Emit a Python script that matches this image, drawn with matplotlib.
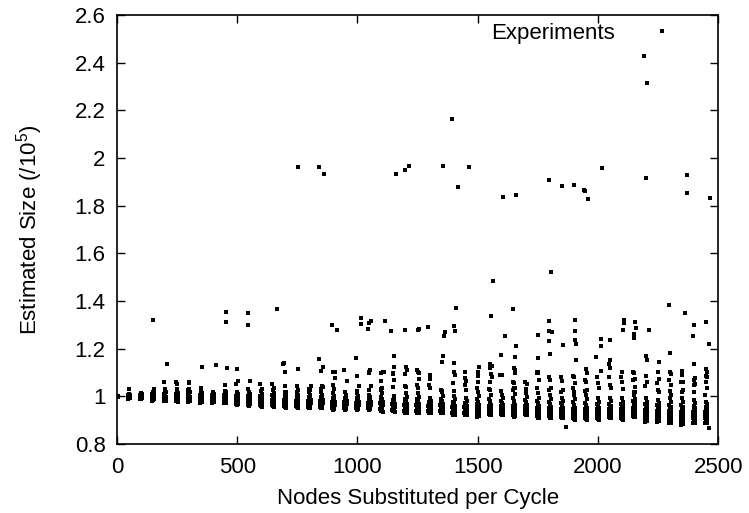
import matplotlib.pyplot as plt
from matplotlib.ticker import FormatStrFormatter

plt.rcParams['font.family'] = ['Liberation Sans', 'DejaVu Sans']
plt.rcParams['mathtext.default'] = 'regular'

# one column of runs every 50 substituted nodes
cols = [0, 50, 100, 150, 200, 250, 300, 350, 400, 450,
        500, 550, 600, 650, 700, 750, 800, 850, 900, 950,
        1000, 1050, 1100, 1150, 1200, 1250, 1300, 1350, 1400, 1450,
        1500, 1550, 1600, 1650, 1700, 1750, 1800, 1850, 1900, 1950,
        2000, 2050, 2100, 2150, 2200, 2250, 2300, 2350, 2400, 2450]

# dense part of each column (estimated size / 1e5)
core = [
    [1.003, 1.002, 1.001, 1.001, 1.000, 1.000, 1.000, 0.999, 0.999, 0.998, 0.998, 0.997],
    [1.010, 1.006, 1.004, 1.002, 1.001, 1.000, 0.999, 0.998, 0.997, 0.996, 0.995, 0.993, 0.992, 0.990],
    [1.015, 1.010, 1.006, 1.004, 1.002, 1.000, 0.999, 0.998, 0.996, 0.995, 0.994, 0.993, 0.991, 0.990, 0.989],
    [1.020, 1.013, 1.008, 1.004, 1.001, 0.999, 0.997, 0.995, 0.993, 0.992, 0.990, 0.988, 0.987, 0.985, 0.983, 0.980],
    [1.025, 1.017, 1.011, 1.006, 1.002, 0.999, 0.997, 0.995, 0.993, 0.991, 0.989, 0.988, 0.986, 0.985, 0.983, 0.982, 0.980],
    [1.025, 1.016, 1.010, 1.005, 1.001, 0.998, 0.995, 0.993, 0.991, 0.989, 0.987, 0.986, 0.984, 0.982, 0.981, 0.979, 0.977],
    [1.030, 1.020, 1.012, 1.006, 1.002, 0.999, 0.996, 0.994, 0.991, 0.989, 0.988, 0.986, 0.985, 0.983, 0.982, 0.980, 0.979, 0.977],
    [1.020, 1.012, 1.006, 1.002, 0.998, 0.995, 0.993, 0.990, 0.988, 0.986, 0.985, 0.983, 0.981, 0.980, 0.979, 0.977, 0.975, 0.973],
    [1.020, 1.011, 1.005, 1.001, 0.997, 0.994, 0.992, 0.990, 0.988, 0.986, 0.984, 0.982, 0.981, 0.979, 0.978, 0.976, 0.975, 0.973],
    [1.022, 1.012, 1.005, 1.000, 0.996, 0.993, 0.990, 0.988, 0.986, 0.984, 0.982, 0.980, 0.979, 0.977, 0.976, 0.974, 0.972, 0.970],
    [1.020, 1.010, 1.003, 0.998, 0.994, 0.991, 0.988, 0.986, 0.984, 0.981, 0.979, 0.977, 0.976, 0.974, 0.972, 0.970, 0.968, 0.966, 0.963],
    [1.020, 1.009, 1.002, 0.997, 0.993, 0.990, 0.987, 0.985, 0.982, 0.980, 0.978, 0.976, 0.974, 0.972, 0.970, 0.968, 0.966, 0.963, 0.960],
    [1.022, 1.010, 1.003, 0.997, 0.993, 0.989, 0.986, 0.983, 0.981, 0.978, 0.976, 0.974, 0.972, 0.970, 0.968, 0.966, 0.964, 0.962, 0.959, 0.956],
    [1.025, 1.012, 1.004, 0.998, 0.993, 0.989, 0.986, 0.983, 0.980, 0.978, 0.976, 0.974, 0.972, 0.970, 0.968, 0.966, 0.964, 0.962, 0.959, 0.956],
    [1.020, 1.008, 1.000, 0.995, 0.990, 0.986, 0.983, 0.980, 0.978, 0.975, 0.973, 0.971, 0.969, 0.967, 0.965, 0.963, 0.961, 0.958, 0.955, 0.952],
    [1.020, 1.007, 1.000, 0.994, 0.989, 0.985, 0.982, 0.979, 0.977, 0.975, 0.973, 0.971, 0.969, 0.967, 0.965, 0.962, 0.960, 0.958, 0.955, 0.952],
    [1.020, 1.007, 0.999, 0.993, 0.988, 0.984, 0.981, 0.978, 0.976, 0.974, 0.971, 0.969, 0.967, 0.965, 0.963, 0.961, 0.959, 0.957, 0.954, 0.951, 0.949],
    [1.020, 1.006, 0.998, 0.992, 0.987, 0.983, 0.980, 0.977, 0.975, 0.973, 0.970, 0.968, 0.966, 0.964, 0.962, 0.960, 0.958, 0.956, 0.953, 0.951, 0.949],
    [1.013, 1.001, 0.993, 0.987, 0.982, 0.978, 0.975, 0.972, 0.970, 0.968, 0.965, 0.963, 0.961, 0.959, 0.957, 0.955, 0.953, 0.950, 0.948, 0.945, 0.942],
    [1.020, 1.004, 0.995, 0.988, 0.983, 0.979, 0.976, 0.973, 0.970, 0.968, 0.966, 0.964, 0.962, 0.960, 0.958, 0.956, 0.953, 0.951, 0.948, 0.945, 0.942],
    [1.013, 1.000, 0.992, 0.986, 0.981, 0.977, 0.974, 0.971, 0.969, 0.967, 0.965, 0.963, 0.961, 0.959, 0.957, 0.955, 0.952, 0.950, 0.947, 0.945, 0.942],
    [1.006, 0.996, 0.989, 0.984, 0.979, 0.976, 0.973, 0.970, 0.968, 0.966, 0.964, 0.962, 0.960, 0.958, 0.956, 0.954, 0.952, 0.950, 0.947, 0.945, 0.942],
    [1.030, 1.012, 0.999, 0.990, 0.983, 0.978, 0.974, 0.971, 0.968, 0.965, 0.963, 0.961, 0.959, 0.957, 0.955, 0.953, 0.951, 0.948, 0.945, 0.942, 0.938, 0.935],
    [1.000, 0.990, 0.983, 0.977, 0.973, 0.969, 0.966, 0.963, 0.961, 0.959, 0.957, 0.955, 0.953, 0.951, 0.949, 0.947, 0.945, 0.943, 0.941, 0.939, 0.937, 0.935],
    [1.013, 0.998, 0.988, 0.980, 0.974, 0.969, 0.965, 0.962, 0.959, 0.957, 0.955, 0.953, 0.951, 0.949, 0.947, 0.945, 0.943, 0.940, 0.937, 0.934, 0.931, 0.928],
    [1.013, 0.997, 0.987, 0.979, 0.973, 0.968, 0.964, 0.961, 0.958, 0.956, 0.954, 0.952, 0.950, 0.948, 0.946, 0.944, 0.942, 0.939, 0.936, 0.933, 0.930, 0.928],
    [0.992, 0.982, 0.975, 0.970, 0.966, 0.962, 0.959, 0.957, 0.955, 0.953, 0.951, 0.949, 0.947, 0.945, 0.943, 0.941, 0.939, 0.937, 0.935, 0.932, 0.930, 0.928],
    [1.020, 1.001, 0.989, 0.980, 0.973, 0.968, 0.963, 0.959, 0.956, 0.953, 0.951, 0.949, 0.947, 0.945, 0.943, 0.941, 0.939, 0.937, 0.935, 0.932, 0.930, 0.928],
    [1.000, 0.987, 0.978, 0.971, 0.966, 0.961, 0.957, 0.954, 0.951, 0.949, 0.947, 0.945, 0.943, 0.941, 0.939, 0.937, 0.934, 0.932, 0.929, 0.926, 0.923, 0.921],
    [0.992, 0.981, 0.973, 0.967, 0.962, 0.958, 0.955, 0.952, 0.949, 0.947, 0.945, 0.943, 0.941, 0.939, 0.937, 0.935, 0.933, 0.931, 0.929, 0.926, 0.923, 0.921],
    [1.020, 1.000, 0.987, 0.977, 0.969, 0.963, 0.958, 0.954, 0.951, 0.948, 0.946, 0.944, 0.942, 0.940, 0.938, 0.936, 0.934, 0.931, 0.928, 0.925, 0.921, 0.918, 0.914],
    [1.025, 1.004, 0.990, 0.979, 0.971, 0.965, 0.960, 0.956, 0.952, 0.949, 0.947, 0.945, 0.943, 0.941, 0.939, 0.937, 0.935, 0.933, 0.931, 0.929, 0.926, 0.923, 0.921],
    [1.006, 0.992, 0.982, 0.974, 0.968, 0.963, 0.959, 0.955, 0.952, 0.949, 0.947, 0.945, 0.943, 0.941, 0.939, 0.937, 0.935, 0.933, 0.931, 0.929, 0.926, 0.923, 0.921],
    [1.034, 1.010, 0.993, 0.981, 0.972, 0.965, 0.959, 0.954, 0.950, 0.947, 0.944, 0.942, 0.940, 0.938, 0.936, 0.934, 0.932, 0.930, 0.927, 0.924, 0.920, 0.917, 0.914],
    [1.013, 0.997, 0.985, 0.976, 0.969, 0.963, 0.958, 0.954, 0.951, 0.948, 0.946, 0.944, 0.942, 0.940, 0.938, 0.936, 0.934, 0.932, 0.930, 0.928, 0.926, 0.923, 0.921],
    [1.013, 0.995, 0.982, 0.972, 0.964, 0.958, 0.953, 0.949, 0.946, 0.943, 0.941, 0.939, 0.937, 0.935, 0.933, 0.931, 0.929, 0.927, 0.924, 0.921, 0.918, 0.914, 0.910, 0.907],
    [1.006, 0.990, 0.978, 0.969, 0.962, 0.956, 0.951, 0.947, 0.944, 0.941, 0.939, 0.937, 0.935, 0.933, 0.931, 0.929, 0.927, 0.925, 0.922, 0.919, 0.916, 0.913, 0.910, 0.907],
    [0.992, 0.979, 0.970, 0.963, 0.957, 0.952, 0.948, 0.945, 0.942, 0.940, 0.938, 0.936, 0.934, 0.932, 0.930, 0.928, 0.926, 0.924, 0.921, 0.918, 0.915, 0.912, 0.910, 0.907],
    [1.006, 0.988, 0.975, 0.965, 0.958, 0.952, 0.947, 0.943, 0.940, 0.937, 0.935, 0.933, 0.931, 0.929, 0.927, 0.925, 0.923, 0.920, 0.917, 0.914, 0.911, 0.907, 0.903, 0.900],
    [1.006, 0.987, 0.974, 0.964, 0.957, 0.951, 0.946, 0.942, 0.939, 0.936, 0.934, 0.932, 0.930, 0.928, 0.926, 0.924, 0.922, 0.919, 0.916, 0.913, 0.910, 0.906, 0.903, 0.900],
    [0.992, 0.978, 0.968, 0.960, 0.954, 0.949, 0.945, 0.941, 0.938, 0.935, 0.933, 0.931, 0.929, 0.927, 0.925, 0.923, 0.921, 0.918, 0.915, 0.912, 0.909, 0.906, 0.903, 0.900],
    [0.992, 0.979, 0.969, 0.961, 0.955, 0.950, 0.946, 0.942, 0.939, 0.936, 0.934, 0.932, 0.930, 0.928, 0.926, 0.924, 0.922, 0.920, 0.917, 0.914, 0.912, 0.910, 0.909, 0.907],
    [0.992, 0.978, 0.968, 0.960, 0.954, 0.949, 0.945, 0.941, 0.938, 0.935, 0.933, 0.931, 0.929, 0.927, 0.925, 0.923, 0.921, 0.918, 0.915, 0.912, 0.909, 0.906, 0.903, 0.900],
    [1.006, 0.990, 0.979, 0.970, 0.963, 0.957, 0.952, 0.948, 0.945, 0.942, 0.939, 0.937, 0.935, 0.933, 0.931, 0.929, 0.927, 0.925, 0.923, 0.921, 0.919, 0.917, 0.915, 0.914],
    [0.992, 0.977, 0.966, 0.958, 0.951, 0.946, 0.942, 0.938, 0.935, 0.932, 0.930, 0.928, 0.926, 0.924, 0.922, 0.920, 0.918, 0.916, 0.913, 0.910, 0.907, 0.904, 0.900, 0.896, 0.893],
    [0.985, 0.972, 0.962, 0.955, 0.949, 0.944, 0.940, 0.936, 0.933, 0.930, 0.928, 0.926, 0.924, 0.922, 0.920, 0.918, 0.916, 0.914, 0.911, 0.908, 0.905, 0.902, 0.899, 0.896, 0.893],
    [0.992, 0.976, 0.965, 0.956, 0.949, 0.943, 0.938, 0.934, 0.931, 0.928, 0.926, 0.924, 0.922, 0.920, 0.918, 0.916, 0.914, 0.911, 0.908, 0.905, 0.902, 0.898, 0.894, 0.890, 0.886],
    [0.992, 0.975, 0.963, 0.954, 0.947, 0.941, 0.936, 0.932, 0.929, 0.926, 0.923, 0.921, 0.919, 0.917, 0.915, 0.913, 0.910, 0.907, 0.904, 0.901, 0.897, 0.893, 0.889, 0.884, 0.880],
    [0.985, 0.970, 0.960, 0.952, 0.945, 0.940, 0.936, 0.932, 0.929, 0.926, 0.924, 0.922, 0.920, 0.918, 0.916, 0.914, 0.911, 0.908, 0.905, 0.902, 0.899, 0.896, 0.893, 0.889, 0.886],
    [0.978, 0.966, 0.957, 0.950, 0.944, 0.939, 0.935, 0.931, 0.928, 0.925, 0.923, 0.921, 0.919, 0.917, 0.915, 0.913, 0.910, 0.907, 0.904, 0.901, 0.898, 0.895, 0.892, 0.889, 0.886],
]

# sparser runs sitting just above each column
mid = {
    50: [1.031], 150: [1.029], 200: [1.059, 1.031], 250: [1.059, 1.053, 1.032],
    300: [1.059, 1.055, 1.025], 350: [1.034], 450: [1.048, 1.020],
    500: [1.063, 1.053], 550: [1.063, 1.030], 600: [1.051, 1.030],
    650: [1.051, 1.034], 700: [1.045, 1.020], 750: [1.042, 1.028],
    800: [1.042, 1.032, 1.025], 850: [1.040, 1.030, 1.045],
    900: [1.077, 1.049, 1.030], 950: [1.065, 1.020], 1000: [1.045, 1.021],
    1050: [1.044, 1.027], 1100: [1.065, 1.034, 1.027], 1150: [1.095, 1.070, 1.040],
    1200: [1.044, 1.038], 1250: [1.048, 1.034], 1300: [1.048, 1.034],
    1350: [1.027, 1.023], 1400: [1.055, 1.023], 1450: [1.076, 1.065, 1.048, 1.027],
    1500: [1.062, 1.034], 1550: [1.060, 1.030], 1600: [1.090, 1.023],
    1650: [1.110, 1.060, 1.055, 1.034, 1.027], 1700: [1.051, 1.059, 1.031],
    1750: [1.104, 1.097, 1.069, 1.034], 1800: [1.079, 1.069, 1.034, 1.027],
    1850: [1.079, 1.065, 1.027, 1.020], 1900: [1.087, 1.079, 1.055, 1.034, 1.020],
    1950: [1.069, 1.062, 1.027, 1.023], 2000: [1.083, 1.055, 1.034],
    2050: [1.079, 1.048, 1.037], 2100: [1.083, 1.060, 1.030],
    2150: [1.104, 1.097, 1.073, 1.069, 1.041, 1.020, 1.020],
    2200: [1.087, 1.062, 1.045], 2250: [1.104, 1.073, 1.055, 1.020, 1.027],
    2300: [1.100, 1.093, 1.069, 1.048, 1.023, 1.006],
    2350: [1.090, 1.062, 1.059, 1.027, 1.020], 2400: [1.048, 1.052, 1.070, 1.076, 1.020],
    2450: [1.115, 1.104, 1.087, 1.079, 1.062, 1.034, 1.006],
}

# isolated runs read one by one
out_x = [755, 842, 863, 1162, 1198, 1213, 1356, 1392, 1416, 1465,
         1604, 1660, 1795, 1851, 1902, 1942, 1947, 1960, 2015, 2192,
         2205, 2200, 2368, 2368, 2467, 1564, 1805,
         151, 453, 453, 545, 545, 667, 893, 914, 1014, 1014,
         1045, 1050, 1055, 1113, 1141, 1197, 1252, 1256, 1294, 1360,
         1362, 1402, 1406, 1411, 1557, 1614, 1646, 1660, 1750, 1798,
         1796, 1808, 1797, 1854, 1905, 1905, 1906, 1908, 2011, 2011,
         2050, 2106, 2110, 2104, 2155, 2157, 2151, 2151, 2210, 2296,
         2360, 2397, 2396, 2450, 2460,
         207, 356, 412, 458, 498, 692, 693, 700, 752, 840,
         858, 850, 993, 946, 900, 905, 1000, 1050, 1052, 1048,
         1100, 1105, 1110, 1150, 1150, 1148, 1200, 1205, 1198, 1246,
         1252, 1256, 1255, 1302, 1300, 1352, 1354, 1400, 1403, 1406,
         1447, 1500, 1503, 1506, 1549, 1560, 1553, 1557, 1559, 1597,
         1594, 1657, 1652, 1655, 1752, 1750, 1748, 1802, 1908, 1952,
         1953, 1992, 2014, 2050, 2046, 2049, 2099, 2200, 2205, 2252,
         2300, 2348, 2400, 1865, 2460]
out_y = [1.962, 1.961, 1.934, 1.931, 1.949, 1.966, 1.965, 2.163, 1.880, 1.962,
         1.838, 1.845, 1.908, 1.882, 1.887, 1.865, 1.862, 1.827, 1.959, 2.428,
         2.315, 1.914, 1.928, 1.852, 1.831, 1.482, 1.521,
         1.319, 1.352, 1.313, 1.348, 1.301, 1.366, 1.301, 1.280, 1.330, 1.304,
         1.283, 1.307, 1.315, 1.315, 1.276, 1.277, 1.277, 1.283, 1.289, 1.251,
         1.270, 1.297, 1.276, 1.372, 1.339, 1.255, 1.365, 1.213, 1.256, 1.318,
         1.276, 1.270, 1.234, 1.215, 1.322, 1.273, 1.238, 1.221, 1.242, 1.213,
         1.238, 1.322, 1.308, 1.280, 1.311, 1.285, 1.262, 1.245, 1.277, 1.382,
         1.351, 1.301, 1.255, 1.313, 1.221,
         1.137, 1.124, 1.131, 1.119, 1.113, 1.137, 1.139, 1.100, 1.116, 1.155,
         1.124, 1.107, 1.161, 1.110, 1.100, 1.103, 1.087, 1.104, 1.111, 1.099,
         1.097, 1.100, 1.100, 1.170, 1.121, 1.097, 1.125, 1.111, 1.093, 1.110,
         1.104, 1.097, 1.073, 1.090, 1.073, 1.146, 1.168, 1.139, 1.104, 1.090,
         1.104, 1.087, 1.104, 1.121, 1.135, 1.128, 1.118, 1.093, 1.079, 1.175,
         1.090, 1.163, 1.118, 1.097, 1.161, 1.104, 1.097, 1.179, 1.151, 1.114,
         1.097, 1.163, 1.108, 1.154, 1.135, 1.118, 1.104, 1.168, 1.151, 1.144,
         1.182, 1.107, 1.135, 0.872, 0.868]

# spread of the runs inside a column, in nodes
jitter = [0, 4, -3, 2, -1, 5, -5, 1, 3, -3, 5, -1, 3, -4, 1, -2, 4, -5, 0, 2, -3, 5, -1, 3, -4]

xs, ys = [], []
for c, vals in zip(cols, core):
    for i, v in enumerate(vals + mid.get(c, [])):
        xs.append(c + jitter[i % len(jitter)])
        ys.append(v)
xs += out_x
ys += out_y

fig = plt.figure(figsize=(7.49, 5.13), dpi=100)
ax = fig.add_axes([0.156, 0.1345, 0.803, 0.8365])
ax.plot(xs, ys, ls='none', marker='s', ms=2.3, mew=0, color='black', label='Experiments')

ax.set_xlim(0, 2500)
ax.set_ylim(0.8, 2.6)
ax.set_xticks([0, 500, 1000, 1500, 2000, 2500])
ax.set_yticks([0.8, 1.0, 1.2, 1.4, 1.6, 1.8, 2.0, 2.2, 2.4, 2.6])
ax.yaxis.set_major_formatter(FormatStrFormatter('%g'))
ax.tick_params(direction='in', length=5.5, width=1, top=True, right=True, labelsize=16)
ax.tick_params(axis='x', pad=9)
ax.tick_params(axis='y', pad=8)
for s in ax.spines.values():
    s.set_linewidth(1.2)

ax.set_xlabel('Nodes Substituted per Cycle', fontsize=16)
ax.set_ylabel('Estimated Size (/10$^5$)', fontsize=16)
ax.xaxis.label.set_va('center')
ax.yaxis.label.set_va('center')
ax.xaxis.set_label_coords(0.5, -0.126)
ax.yaxis.set_label_coords(-0.145, 0.5)

ax.legend(loc='center right', bbox_to_anchor=(695 / 749, 1 - 33 / 513),
          bbox_transform=fig.transFigure, frameon=False, markerfirst=False,
          fontsize=16, borderpad=0, handlelength=2, handletextpad=1.1, markerscale=1)

fig.savefig('out.png', dpi=100)
